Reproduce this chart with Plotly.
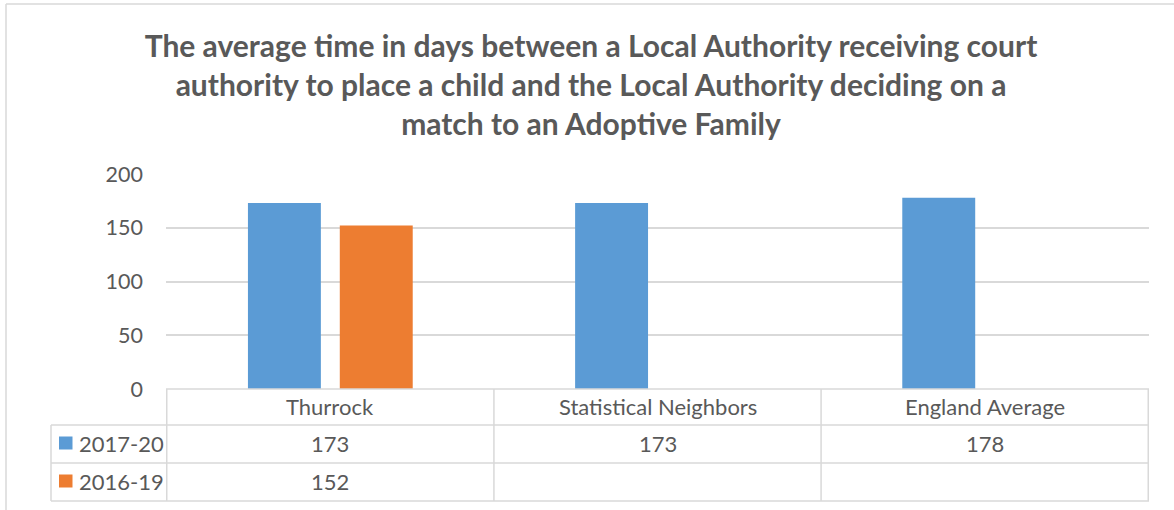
import plotly.graph_objects as go

# ---- data ----
categories = ["Thurrock", "Statistical Neighbors", "England Average"]
series_names = ["2017-20", "2016-19"]
values_2017_20 = [173, 173, 178]
values_2016_19 = [152, None, None]
y_ticks = [0, 50, 100, 150, 200]
title_text = ("The average time in days between a Local Authority receiving court<br>"
              "authority to place a child and the Local Authority deciding on a<br>"
              "match to an Adoptive Family")

# ---- style ----
BLUE = "#5B9BD5"
ORANGE = "#ED7D31"
GRID = "#D9D9D9"
TEXT = "#595959"
FONT = "Lato"
W, H = 1174, 510
L, R, T, B = 166, 25, 174, 121
pw, ph = W - L - R, H - T - B
TABLE_FS = 22


def px_x(px):
    return (px - L) / pw


def px_y(py):
    return (H - B - py) / ph


fig = go.Figure()
series = [(series_names[0], values_2017_20, BLUE), (series_names[1], values_2016_19, ORANGE)]
for name, vals, col in series:
    fig.add_trace(go.Bar(x=categories, y=vals, name=name, marker=dict(color=col, line=dict(width=0)),
                         showlegend=False))

shapes = []
lw = 1.5
# table horizontal lines
row_top = [389, 425, 463, 501]
shapes.append(dict(type="line", xref="paper", yref="paper", x0=0, x1=1, y0=px_y(row_top[0]), y1=px_y(row_top[0]),
                   line=dict(color=GRID, width=lw)))
for py in row_top[1:]:
    shapes.append(dict(type="line", xref="paper", yref="paper", x0=px_x(51), x1=1, y0=px_y(py), y1=px_y(py),
                       line=dict(color=GRID, width=lw)))
# vertical lines at category boundaries
for k in range(len(categories) + 1):
    shapes.append(dict(type="line", xref="x", yref="paper", x0=k - 0.5, x1=k - 0.5,
                       y0=px_y(row_top[0]), y1=px_y(row_top[-1]), line=dict(color=GRID, width=lw)))
shapes.append(dict(type="line", xref="paper", yref="paper", x0=px_x(51), x1=px_x(51),
                   y0=px_y(row_top[1]), y1=px_y(row_top[-1]), line=dict(color=GRID, width=lw)))
# outer chart border (left and top visible)
shapes.append(dict(type="line", xref="paper", yref="paper", x0=px_x(6), x1=px_x(6), y0=px_y(4), y1=px_y(520),
                   line=dict(color=GRID, width=lw)))
shapes.append(dict(type="line", xref="paper", yref="paper", x0=px_x(6), x1=px_x(1180), y0=px_y(4), y1=px_y(4),
                   line=dict(color=GRID, width=lw)))

annotations = []
# header row
for c in categories:
    annotations.append(dict(x=c, xref="x", y=px_y(406), yref="paper", text=c, showarrow=False,
                            xanchor="center", yanchor="middle",
                            font=dict(family=FONT, size=TABLE_FS, color=TEXT)))
# data rows
row_centers = [443, 481]
for (name, vals, col), yc in zip(series, row_centers):
    for c, v in zip(categories, vals):
        if v is not None:
            annotations.append(dict(x=c, xref="x", y=px_y(yc), yref="paper", text=str(v), showarrow=False,
                                    xanchor="center", yanchor="middle",
                                    font=dict(family=FONT, size=TABLE_FS, color=TEXT)))
    annotations.append(dict(x=px_x(77), xref="paper", y=px_y(yc), yref="paper", text=name, showarrow=False,
                            xanchor="left", yanchor="middle", font=dict(family=FONT, size=TABLE_FS, color=TEXT)))
    shapes.append(dict(type="rect", xref="paper", yref="paper", x0=px_x(59), x1=px_x(72.5),
                       y0=px_y(yc - 6.5), y1=px_y(yc + 6.5), fillcolor=col, line=dict(width=0)))

fig.update_layout(
    width=W, height=H,
    margin=dict(l=L, r=R, t=T, b=B, pad=0),
    paper_bgcolor="white", plot_bgcolor="white",
    barmode="group", bargap=0.4385, bargroupgap=0.206,
    title=dict(text=title_text, x=591 / W, xanchor="center", y=1 - 57 / H, yanchor="top",
               font=dict(family=FONT, size=30, color=TEXT, weight="bold")),
    xaxis=dict(showticklabels=False, showgrid=False, zeroline=False, showline=False, ticks=""),
    yaxis=dict(range=[0, 200], tickvals=y_ticks, showgrid=True, gridcolor=GRID, gridwidth=1.5,
               zeroline=False, showline=False, ticks="", ticklabelstandoff=22,
               tickfont=dict(family=FONT, size=21.5, color=TEXT)),
    shapes=shapes, annotations=annotations,
    font=dict(family=FONT, color=TEXT),
)

fig.write_html("out.html", config={"displayModeBar": False},
               post_script="document.body.style.margin='0';document.body.style.overflow='hidden';")
